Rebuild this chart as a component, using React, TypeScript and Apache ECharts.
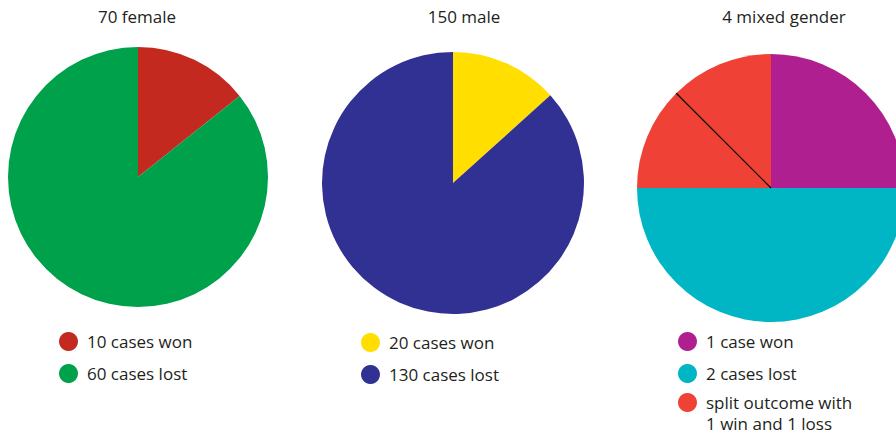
import React, { useEffect, useRef } from "react";
import * as echarts from "echarts";

const titles = ["70 female", "150 male", "4 mixed gender"];

const femaleNames = ["10 cases won", "60 cases lost"];
const femaleValues = [10, 60];
const femaleColors = ["#c4291f", "#00a14b"];

const maleNames = ["20 cases won", "130 cases lost"];
const maleValues = [20, 130];
const maleColors = ["#ffde00", "#303192"];

const splitName = "split outcome with\n1 win and 1 loss";
const mixedNames = ["1 case won", "2 cases lost", splitName, splitName];
const mixedValues = [1, 2, 0.5, 0.5];
const mixedColors = ["#b01f8f", "#00b6c4", "#ef4136", "#ef4136"];

const FONT = "'Open Sans', sans-serif";
const TEXT = "#231f20";

const centers: [number, number][] = [
  [138, 177],
  [453, 183],
  [771, 188],
];
const radii = [130, 131, 134];

export default function App() {
  const ref = useRef<HTMLDivElement>(null);
  useEffect(() => {
    if (!ref.current) return;
    const chart = echarts.init(ref.current, null, { renderer: "svg" });

    const mk = (names: string[], values: number[], colors: string[]) =>
      names.map((n, i) => ({ name: n, value: values[i], itemStyle: { color: colors[i] } }));

    const pieBase = {
      type: "pie" as const,
      startAngle: 90,
      clockwise: true,
      silent: true,
      label: { show: false },
      labelLine: { show: false },
      emphasis: { disabled: true },
      itemStyle: { borderWidth: 0 },
    };

    // boundary between two halves of split outcome
    const total = mixedValues.reduce((a, b) => a + b, 0);
    const before = mixedValues[0] + mixedValues[1] + mixedValues[2];
    const theta = (before / total) * Math.PI * 2;
    const [cx3, cy3] = centers[2];
    const r3 = radii[2];

    const legendBase = {
      orient: "vertical" as const,
      icon: "circle",
      itemWidth: 27,
      itemHeight: 19,
      itemGap: 13,
      padding: 0,
      selectedMode: false,
      textStyle: { fontFamily: FONT, fontSize: 17, color: TEXT },
    };

    const titleX = [137, 464, 784];

    chart.setOption({
      animation: false,
      title: titles.map((t, i) => ({
        text: t,
        left: titleX[i],
        top: 8,
        padding: 0,
        textAlign: "center",
        textStyle: { fontFamily: FONT, fontSize: 17, fontWeight: "normal", color: TEXT },
      })),
      legend: [
        { ...legendBase, left: 59, top: 332, data: femaleNames },
        { ...legendBase, left: 361, top: 333, data: maleNames },
        { ...legendBase, left: 678, top: 332, data: mixedNames.slice(0, 2) },
        {
          ...legendBase,
          left: 678,
          top: 371,
          data: [splitName],
          formatter: (n: string) => "\n" + n,
          textStyle: {
            fontFamily: FONT,
            fontSize: 17,
            color: TEXT,
            lineHeight: 21,
          },
        },
      ],
      series: [
        { ...pieBase, center: centers[0], radius: radii[0], data: mk(femaleNames, femaleValues, femaleColors) },
        { ...pieBase, center: centers[1], radius: radii[1], data: mk(maleNames, maleValues, maleColors) },
        { ...pieBase, center: centers[2], radius: radii[2], data: mk(mixedNames, mixedValues, mixedColors) },
      ],
      graphic: [
        {
          type: "line",
          silent: true,
          z: 100,
          shape: {
            x1: cx3,
            y1: cy3,
            x2: cx3 + r3 * Math.sin(theta),
            y2: cy3 - r3 * Math.cos(theta),
          },
          style: { stroke: "#000", lineWidth: 1.2 },
        },
      ],
    });
    return () => chart.dispose();
  }, []);
  return (
    <div
      ref={ref}
      style={{ position: "absolute", left: 0, top: 0, width: 896, height: 434, background: "#fff" }}
    />
  );
}
